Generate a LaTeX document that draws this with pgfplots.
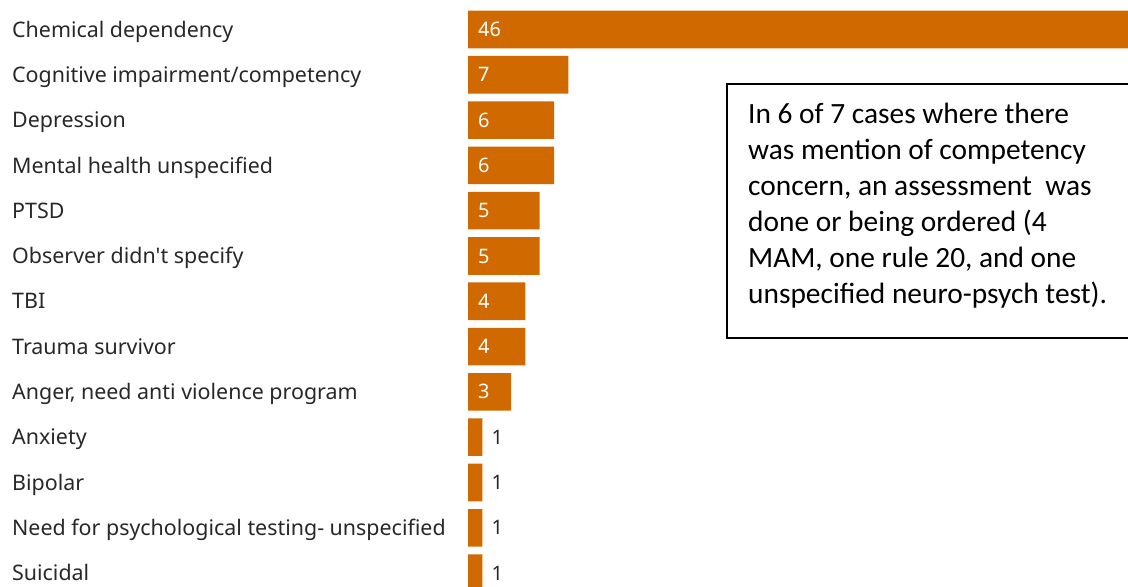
\documentclass[border=0pt]{standalone}
\usepackage{pgfplots}
\pgfplotsset{compat=1.18}
\usepackage{fontspec}
\setmainfont{Noto Sans}
\newfontfamily\boxfont{Carlito}
\definecolor{barorange}{RGB}{208,106,0}
\definecolor{labelgray}{RGB}{40,40,40}

\begin{document}
\begin{tikzpicture}[x=1bp,y=1bp]
\path[use as bounding box] (0,0) rectangle (1128,587);
\clip (0,0) rectangle (1128,587);
\begin{axis}[
    at={(468bp,557.5bp)}, anchor=north west,
    scale only axis,
    width=660bp, height=543.6bp,
    xmin=0, xmax=46, ymin=0, ymax=12,
    y dir=reverse,
    axis line style={draw=none},
    major tick length=0pt,
    xtick=\empty,
    ytick={0,...,12},
    yticklabels={Chemical dependency, Cognitive impairment/competency, Depression,
        Mental health unspecified, PTSD, Observer didn\textquotesingle t specify, TBI,
        Trauma survivor, {Anger, need anti violence program}, Anxiety, Bipolar,
        Need for psychological testing- unspecified, Suicidal},
    yticklabel style={anchor=west, inner sep=0pt, xshift=-456bp,
        text height=15.3bp, text depth=0pt,
        font=\fontsize{21.5}{25}\selectfont, text=labelgray},
    /pgf/number format/assume math mode=true,
    clip=false,
    bar width=37.6bp,
]
\addplot[xbar, bar shift=0pt, fill=barorange, draw=none] coordinates {
    (46,0) (7,1) (6,2) (6,3) (5,4) (5,5) (4,6) (4,7) (3,8)
    (1,9) (1,10) (1,11) (1,12)
};
% values inside the bars
\addplot[draw=none, mark=none, nodes near coords, point meta=explicit,
    nodes near coords style={anchor=west, inner sep=0pt, xshift=10bp,
        text height=14.2bp, text depth=0pt,
        font=\fontsize{20}{24}\selectfont, text=white}] coordinates {
    (0,0)[46] (0,1)[7] (0,2)[6] (0,3)[6] (0,4)[5] (0,5)[5] (0,6)[4] (0,7)[4] (0,8)[3]
};
% values beside the short bars
\addplot[draw=none, mark=none, nodes near coords, point meta=explicit,
    nodes near coords style={anchor=west, inner sep=0pt, xshift=9bp,
        text height=14.2bp, text depth=0pt,
        font=\fontsize{20}{24}\selectfont, text=labelgray}] coordinates {
    (1,9)[1] (1,10)[1] (1,11)[1] (1,12)[1]
};
\end{axis}
\draw[line width=1.5bp, fill=white] (727,503) rectangle (1140,249);
\begin{scope}[every node/.style={anchor=base west, inner sep=0pt,
        font=\boxfont\fontsize{29.5}{36}\selectfont}]
\node at (748,463) {In 6 of 7 cases where there};
\node at (748,427) {was mention of competency};
\node at (748,391) {concern, an assessment\ \ was};
\node at (748,355) {done or being ordered (4};
\node at (748,319) {MAM, one rule 20, and one};
\node at (748,283) {unspecified neuro-psych test).};
\end{scope}
\end{tikzpicture}
\end{document}
